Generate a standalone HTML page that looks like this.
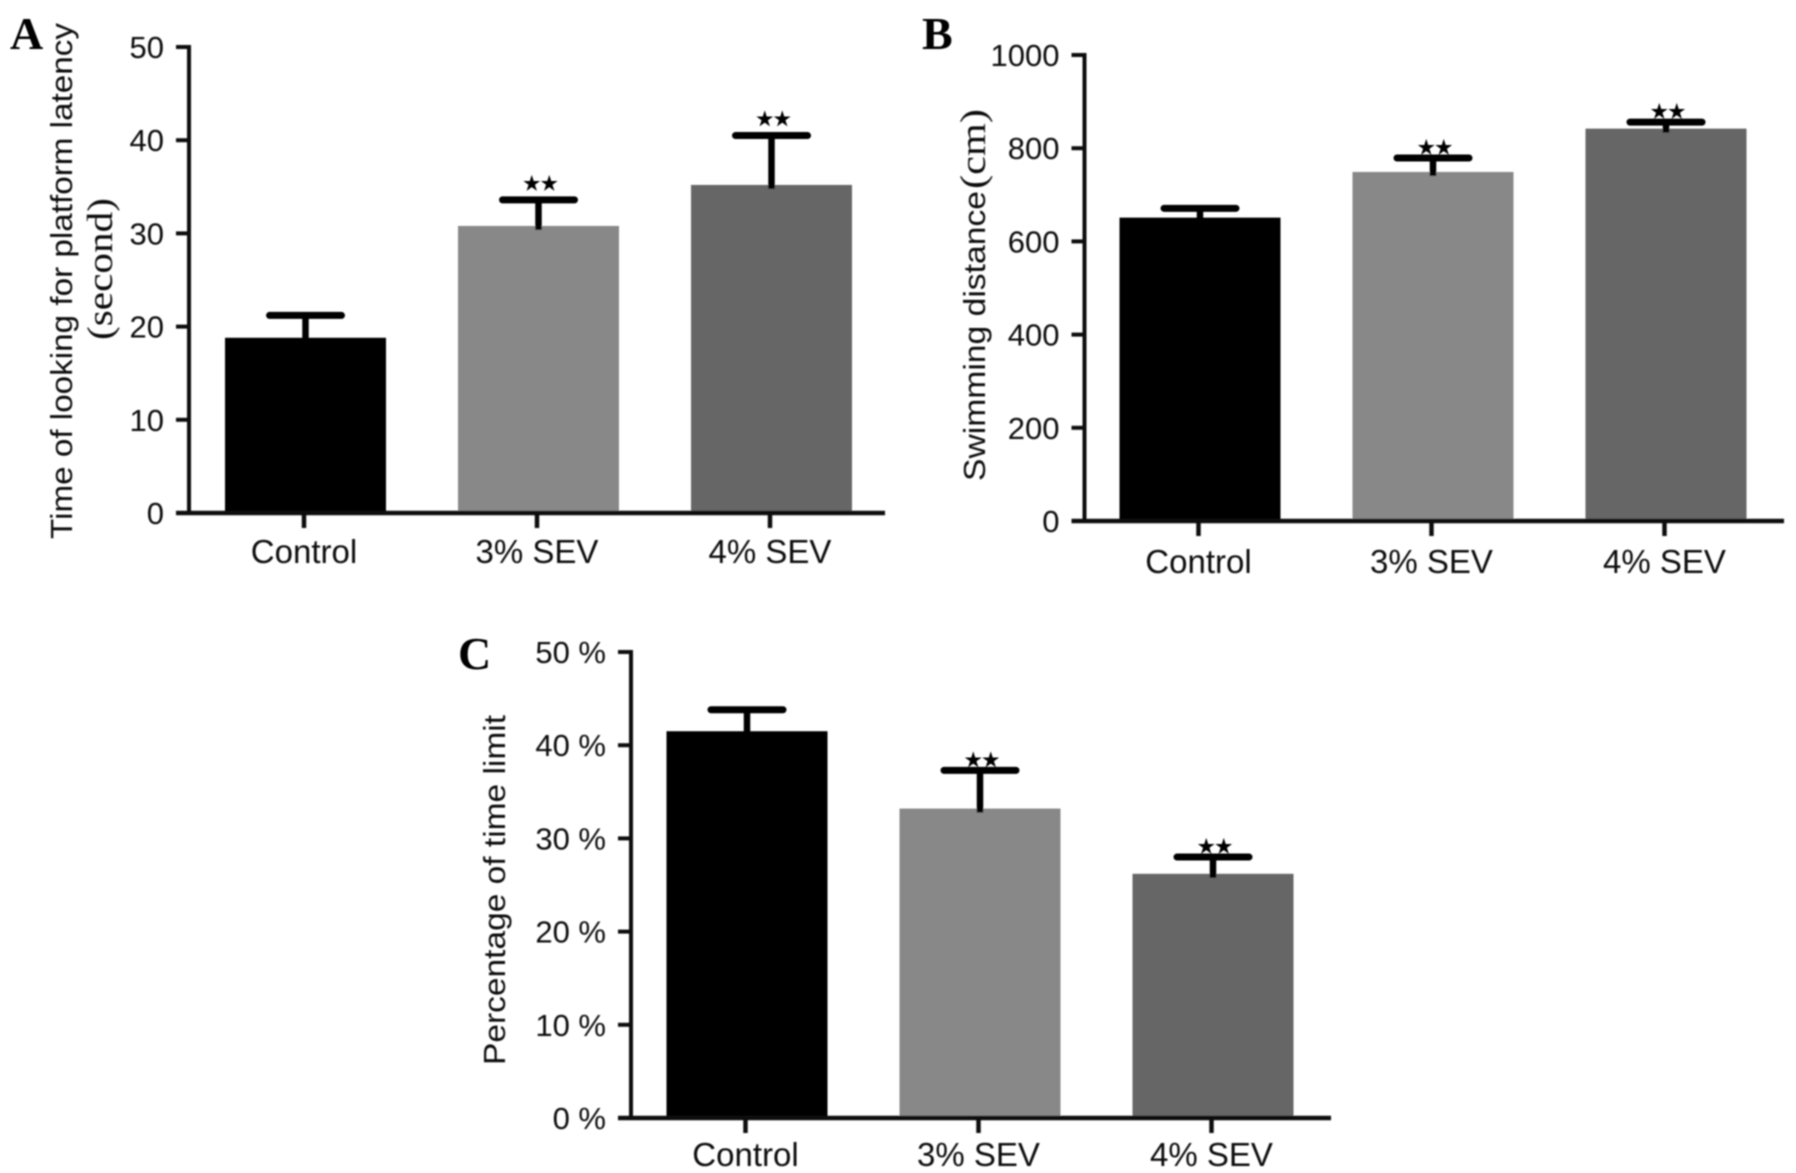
<!DOCTYPE html>
<html lang="en">
<head>
<meta charset="utf-8">
<title>Bar charts A, B and C</title>
<style>
html,body{margin:0;padding:0;background:#fff;}
svg{display:block;}
text{fill:#111;font-family:"Liberation Sans",sans-serif;}
</style>
</head>
<body>
<svg id="figure" xmlns="http://www.w3.org/2000/svg" width="1796" height="1173" viewBox="0 0 1796 1173">
<defs><filter id="soft" x="-2%" y="-2%" width="104%" height="104%"><feGaussianBlur stdDeviation="0.7"/></filter></defs>
<rect width="1796" height="1173" fill="#fff"/>
<g id="root" filter="url(#soft)"></g>
</svg>
<script>
const categories = ['Control', '3% SEV', '4% SEV'];
const significance = ['', '★★', '★★'];

const ticksA = [0, 10, 20, 30, 40, 50];
const valuesA = [18.8, 30.8, 35.2];
const errorsA = [2.4, 2.8, 5.3];

const ticksB = [0, 200, 400, 600, 800, 1000];
const valuesB = [651, 749, 842];
const errorsB = [20, 30, 14];

const ticksC = [0, 10, 20, 30, 40, 50];
const tickSuffixC = ' %';
const valuesC = [41.5, 33.2, 26.2];
const errorsC = [2.3, 4.1, 1.8];

const barColors = ['#000000', '#888888', '#666666'];

const NS = 'http://www.w3.org/2000/svg';
const root = document.getElementById('root');

function make(tag, attrs, parent, content) {
  const el = document.createElementNS(NS, tag);
  for (const k in attrs) el.setAttribute(k, attrs[k]);
  if (content !== undefined) el.textContent = content;
  parent.appendChild(el);
  return el;
}

function drawPanel(p) {
  const group = make('g', {}, root);
  
  

  const maxTick = p.ticks[p.ticks.length - 1];
  const yOf = v => p.y0 + (p.yTop - p.y0) * (v / maxTick);
  const xOf = i => p.firstBarX + i * p.barStep;

  p.values.forEach((v, i) => {
    const bar = make('rect', { x: xOf(i) - p.barW / 2, y: yOf(v), width: p.barW, height: p.y0 - yOf(v), fill: barColors[i] }, group);
    
    
  });

  p.values.forEach((v, i) => {
    const top = yOf(v + p.errors[i]);
    const stem = make('line', { x1: xOf(i), x2: xOf(i), y1: yOf(v) + 4, y2: top, stroke: '#000', 'stroke-width': 6.5 }, group);
    
    
    const cap = make('line', { x1: xOf(i) - 36, x2: xOf(i) + 36, y1: top, y2: top, stroke: '#000', 'stroke-width': 7, 'stroke-linecap': 'round' }, group);
    
    
    if (significance[i]) {
      const star = make('text', { x: xOf(i) + 2, y: top - p.starGap, 'text-anchor': 'middle', 'font-size': 19.5, style: 'font-family:"DejaVu Sans",sans-serif;fill:#000;stroke:#000;stroke-width:0.6' }, group, significance[i]);
      
      
    }
  });

  const yAxis = make('line', { x1: p.axisX, x2: p.axisX, y1: p.yTop - 2, y2: p.y0 + 2, stroke: '#111', 'stroke-width': 4 }, group);
  
  
  const xAxis = make('line', { x1: p.axisX - 13, x2: p.axisEnd, y1: p.y0, y2: p.y0, stroke: '#111', 'stroke-width': 4.5 }, group);
  
  

  p.ticks.forEach(t => {
    const tick = make('line', { x1: p.axisX - 13, x2: p.axisX, y1: yOf(t), y2: yOf(t), stroke: '#111', 'stroke-width': 4 }, group);
    
    
    const label = make('text', { x: p.axisX - 25, y: yOf(t) + 11, 'text-anchor': 'end', 'font-size': 31 }, group, t + (p.suffix || ''));
    
    
  });

  categories.forEach((c, i) => {
    const tick = make('line', { x1: xOf(i) - 1.5, x2: xOf(i) - 1.5, y1: p.y0, y2: p.y0 + 15, stroke: '#111', 'stroke-width': 4.5 }, group);
    
    
    const label = make('text', { x: xOf(i) - 1.5, y: p.y0 + p.labelDrop, 'text-anchor': 'middle', 'font-size': 33 }, group, c);
    
    
  });

  const letter = make('text', { x: p.letterX, y: p.letterY, 'font-size': 46, 'font-weight': 'bold', style: 'font-family:"Liberation Serif",serif;fill:#000' }, group, p.id);
  
  

  p.titles.forEach(t => {
    const title = make('text', { transform: 'translate(' + t.x + ',' + t.y + ') rotate(-90)', 'text-anchor': 'middle', 'font-size': t.size || 31, textLength: t.len, lengthAdjust: 'spacingAndGlyphs', style: t.serif ? 'font-family:"Liberation Serif",serif' : '' }, group, t.text);
    
    
  });
}

drawPanel({
  id: 'A', ticks: ticksA, values: valuesA, errors: errorsA,
  axisX: 189, axisEnd: 885, y0: 513, yTop: 47,
  firstBarX: 305.5, barStep: 233, barW: 161, starGap: 10, labelDrop: 50,
  letterX: 10, letterY: 49,
  titles: [
    { text: 'Time of looking for platform latency', x: 72, y: 281, len: 516, name: 'y-axis-title-A' },
    { text: '(second)', x: 112, y: 269, len: 142, size: 36, serif: true, name: 'y-axis-title-unit-A' }
  ]
});

drawPanel({
  id: 'B', ticks: ticksB, values: valuesB, errors: errorsB,
  axisX: 1084.5, axisEnd: 1784, y0: 521, yTop: 55,
  firstBarX: 1200, barStep: 233, barW: 161, starGap: 4, labelDrop: 52,
  letterX: 922, letterY: 49,
  titles: [
    { text: 'Swimming distance', x: 985, y: 336, len: 290, name: 'y-axis-title-B' },
    { text: '(cm)', x: 985, y: 149, len: 80, size: 36, serif: true, name: 'y-axis-title-unit-B' }
  ]
});

drawPanel({
  id: 'C', ticks: ticksC, values: valuesC, errors: errorsC, suffix: tickSuffixC,
  axisX: 631, axisEnd: 1331, y0: 1118, yTop: 652,
  firstBarX: 747, barStep: 233, barW: 161, starGap: 4, labelDrop: 48,
  letterX: 458, letterY: 669,
  titles: [
    { text: 'Percentage of time limit', x: 505, y: 890, len: 350, name: 'y-axis-title-C' }
  ]
});
</script>
</body>
</html>
